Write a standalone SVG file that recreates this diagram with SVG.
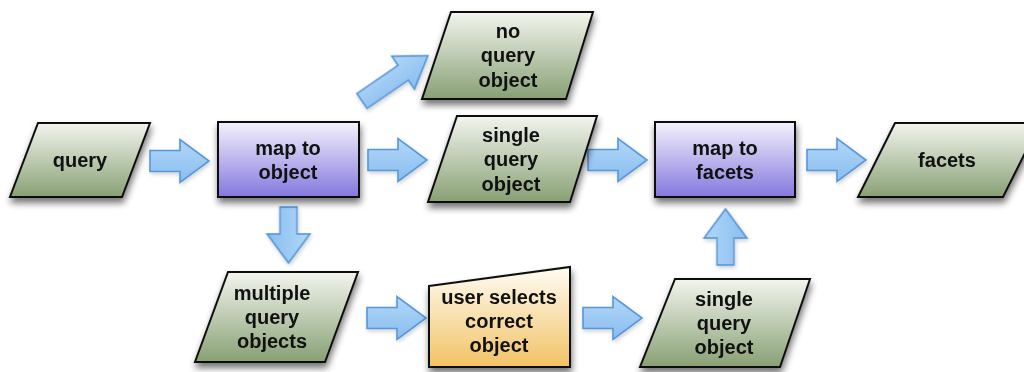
<svg xmlns="http://www.w3.org/2000/svg" xmlns:xlink="http://www.w3.org/1999/xlink" width="1024" height="372" viewBox="0 0 1024 372">
<defs>
<linearGradient id="gGreen" x1="0" y1="0" x2="0" y2="1"><stop offset="0" stop-color="#f2f5ee"/><stop offset="1" stop-color="#88a074"/></linearGradient>
<linearGradient id="gPurple" x1="0" y1="0" x2="0" y2="1"><stop offset="0" stop-color="#f4f2fc"/><stop offset="1" stop-color="#8478de"/></linearGradient>
<linearGradient id="gOrange" x1="0" y1="0" x2="0" y2="1"><stop offset="0" stop-color="#fffcf4"/><stop offset="1" stop-color="#f2c264"/></linearGradient>
<linearGradient id="gArrow" x1="0" y1="0" x2="0" y2="1"><stop offset="0" stop-color="#b2d7f8"/><stop offset="1" stop-color="#88bdef"/></linearGradient>
<filter id="shadow" x="-20%" y="-20%" width="140%" height="150%">
<feGaussianBlur in="SourceAlpha" stdDeviation="3.5"/>
<feOffset dx="1" dy="5" result="b"/>
<feComponentTransfer><feFuncA type="linear" slope="0.55"/></feComponentTransfer>
<feMerge><feMergeNode/><feMergeNode in="SourceGraphic"/></feMerge>
</filter>
<filter id="ashadow" x="-20%" y="-30%" width="140%" height="160%">
<feGaussianBlur in="SourceAlpha" stdDeviation="2"/>
<feOffset dx="1" dy="2"/>
<feComponentTransfer><feFuncA type="linear" slope="0.2"/></feComponentTransfer>
<feMerge><feMergeNode/><feMergeNode in="SourceGraphic"/></feMerge>
</filter>
<path id="arrowH" d="M0,-10.5 H30 V-21.5 L59,0 L30,21.5 V10.5 H0 Z"/>
<path id="arrowV" d="M0,-8.5 H27 V-21.5 L56,0 L27,21.5 V8.5 H0 Z"/>
<path id="arrowD" d="M0,-9 H50 V-20 L80,0 L50,20 V9 H0 Z"/>
</defs>
<style>
.green{fill:url(#gGreen);stroke:#111;stroke-width:2;filter:url(#shadow)}
.purple{fill:url(#gPurple);stroke:#111;stroke-width:2;filter:url(#shadow)}
.orange{fill:url(#gOrange);stroke:#111;stroke-width:2;filter:url(#shadow)}
.arrow{fill:url(#gArrow);stroke:#5797da;stroke-width:1.6;stroke-linejoin:miter}
text{font-family:"Liberation Sans",Arial,sans-serif;font-weight:bold;font-size:20px;fill:#111;text-anchor:middle}
</style>
<rect width="1024" height="372" fill="#ffffff"/>

<g id="connectors" filter="url(#ashadow)">
<use href="#arrowH" class="arrow" transform="translate(150,161)"/>
<use href="#arrowH" class="arrow" transform="translate(368,160)"/>
<use href="#arrowH" class="arrow" transform="translate(588,160)"/>
<use href="#arrowH" class="arrow" transform="translate(807,160)"/>
<use href="#arrowV" class="arrow" transform="translate(288.5,207) rotate(90)"/>
<use href="#arrowH" class="arrow" transform="translate(367,318)"/>
<use href="#arrowH" class="arrow" transform="translate(583,318)"/>
<use href="#arrowV" class="arrow" transform="translate(725.5,265) rotate(-90)"/>
<use href="#arrowD" class="arrow" transform="translate(362,101) rotate(-34.5)"/>
</g>

<g id="query">
<polygon class="green" points="38,123 150,123 122,197 10,197"/>
<text x="80" y="167">query</text>
</g>
<g id="map-to-object">
<rect class="purple" x="218" y="122" width="141" height="75"/>
<text x="288" y="155">map to</text>
<text x="288" y="179">object</text>
</g>
<g id="no-query-object">
<polygon class="green" points="451,12 593,12 566,99 422,99"/>
<text x="508" y="38">no</text>
<text x="508" y="62">query</text>
<text x="508" y="87">object</text>
</g>
<g id="single-query-object-top">
<polygon class="green" points="457,116 597,116 570,202 428,202"/>
<text x="511" y="142">single</text>
<text x="511" y="166">query</text>
<text x="511" y="191">object</text>
</g>
<g id="map-to-facets">
<rect class="purple" x="655" y="122" width="140" height="75"/>
<text x="725" y="155">map to</text>
<text x="725" y="179">facets</text>
</g>
<g id="facets">
<polygon class="green" points="895,123 1040,123 1003,197 858,197"/>
<text x="947" y="167">facets</text>
</g>
<g id="multiple-query-objects">
<polygon class="green" points="228,272 358,272 325,362 195,362"/>
<text x="272" y="300">multiple</text>
<text x="272" y="324">query</text>
<text x="272" y="348">objects</text>
</g>
<g id="user-selects">
<polygon class="orange" points="429,286 570,267 570,367 429,367"/>
<text x="499" y="304">user selects</text>
<text x="499" y="328">correct</text>
<text x="499" y="352">object</text>
</g>
<g id="single-query-object-bottom">
<polygon class="green" points="675,279 810,279 780,367 640,367"/>
<text x="724" y="306">single</text>
<text x="724" y="330">query</text>
<text x="724" y="354">object</text>
</g>
</svg>
